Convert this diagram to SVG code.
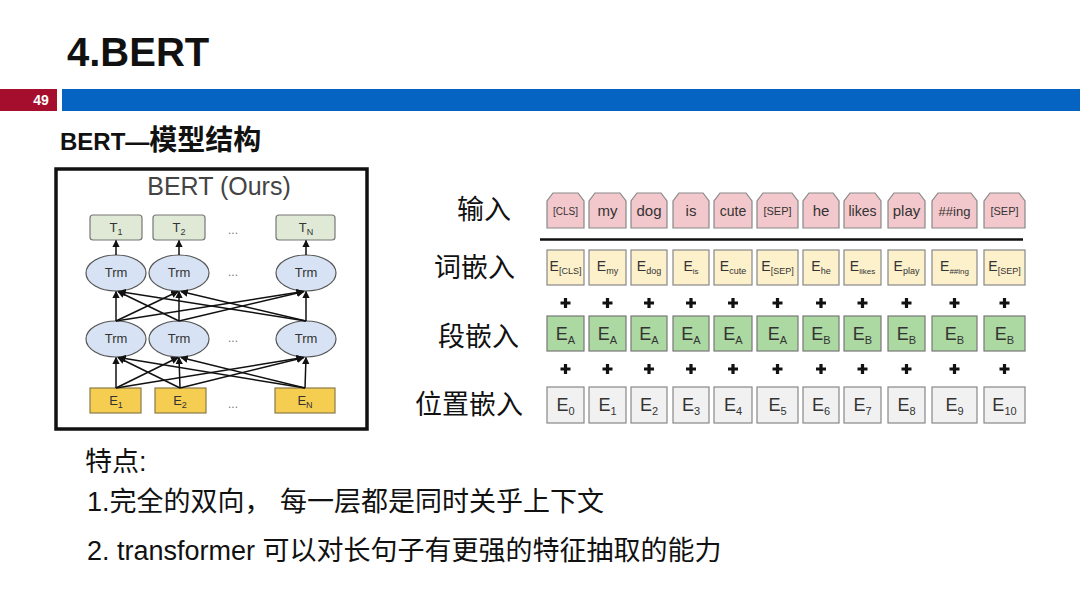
<svg xmlns="http://www.w3.org/2000/svg" width="1080" height="608" viewBox="0 0 1080 608">
<style>
text{font-family:"Liberation Sans","Noto Sans CJK SC",sans-serif}
.cjk{font-family:"Liberation Sans","Noto Sans CJK SC",sans-serif;fill:#111}
.trm{fill:#d7e3f4;stroke:#555;stroke-width:1.2}
.tbox{fill:#dfe9d6;stroke:#777;stroke-width:1.2}
.ebox{fill:#f5cd50;stroke:#8a7a4a;stroke-width:1.2}
.lbl{font-size:13px;fill:#333;text-anchor:middle}
.dots{font-size:12px;fill:#777;text-anchor:middle}
.tab{fill:#f3c8cc;stroke:#888;stroke-width:1.2}
.tok{fill:#fdf1cc;stroke:#888;stroke-width:1.2}
.seg{fill:#acd8a2;stroke:#777;stroke-width:1.2}
.pos{fill:#f1f1f1;stroke:#888;stroke-width:1.2}
.t{fill:#333;text-anchor:middle}
.conn line{stroke:#111;stroke-width:1.5;marker-end:url(#ah)}
</style>
<defs>
<marker id="ah" viewBox="0 0 10 10" refX="9" refY="5" markerWidth="5" markerHeight="5" orient="auto"><path d="M0,0 L10,5 L0,10 Z" fill="#111"/></marker>
<path id="plus" d="M-5,0 H5 M0,-5 V5" stroke="#111" stroke-width="3.2"/>
</defs>
<rect width="1080" height="608" fill="#fff"/>
<!-- header -->
<g id="header">
<text x="67" y="66" font-size="40" font-weight="bold" fill="#111">4.BERT</text>
<rect x="0" y="89" width="57" height="22" fill="#a50f2d"/>
<rect x="62" y="89" width="1018" height="22" fill="#0563c1"/>
<text x="41" y="105" font-size="14" font-weight="bold" fill="#fff" text-anchor="middle">49</text>
<text x="60" y="150" font-size="24" font-weight="bold" fill="#111">BERT—<tspan font-size="28">模型结构</tspan></text>
</g>
<!-- left panel -->
<g id="bert-panel">
<rect x="56" y="169" width="311" height="260" fill="#fff" stroke="#111" stroke-width="3.5"/>
<text x="219" y="195" font-size="25" fill="#444" text-anchor="middle">BERT (Ours)</text>
</g>
<g id="t1"><rect class="tbox" x="90" y="215" width="52" height="25" rx="3"/><text class="lbl" x="116" y="232">T<tspan font-size="9" dy="3">1</tspan></text></g>
<g id="t2"><rect class="tbox" x="153" y="215" width="52" height="25" rx="3"/><text class="lbl" x="179" y="232">T<tspan font-size="9" dy="3">2</tspan></text></g>
<g id="tn"><rect class="tbox" x="276" y="215" width="59" height="25" rx="3"/><text class="lbl" x="306" y="232">T<tspan font-size="9" dy="3">N</tspan></text></g>
<g id="trm-u1"><ellipse class="trm" cx="116" cy="273" rx="30" ry="18"/><text class="lbl" x="116" y="277">Trm</text></g>
<g id="trm-u2"><ellipse class="trm" cx="179" cy="273" rx="30" ry="18"/><text class="lbl" x="179" y="277">Trm</text></g>
<g id="trm-un"><ellipse class="trm" cx="306" cy="273" rx="30" ry="18"/><text class="lbl" x="306" y="277">Trm</text></g>
<g id="trm-l1"><ellipse class="trm" cx="116" cy="339" rx="30" ry="18"/><text class="lbl" x="116" y="343">Trm</text></g>
<g id="trm-l2"><ellipse class="trm" cx="179" cy="339" rx="30" ry="18"/><text class="lbl" x="179" y="343">Trm</text></g>
<g id="trm-ln"><ellipse class="trm" cx="306" cy="339" rx="30" ry="18"/><text class="lbl" x="306" y="343">Trm</text></g>
<g id="e1"><rect class="ebox" x="90" y="388" width="51" height="25"/><text class="lbl" x="116" y="405">E<tspan font-size="9" dy="3">1</tspan></text></g>
<g id="e2"><rect class="ebox" x="155" y="388" width="51" height="25"/><text class="lbl" x="180" y="405">E<tspan font-size="9" dy="3">2</tspan></text></g>
<g id="en"><rect class="ebox" x="275" y="388" width="60" height="25"/><text class="lbl" x="305" y="405">E<tspan font-size="9" dy="3">N</tspan></text></g>
<g id="dots">
<text class="dots" x="233" y="234">...</text>
<text class="dots" x="233" y="276">...</text>
<text class="dots" x="233" y="342">...</text>
<text class="dots" x="233" y="408">...</text>
</g>
<g class="conn" id="connectors">
<line x1="116" y1="255" x2="116" y2="240.5"/>
<line x1="179" y1="255" x2="179" y2="240.5"/>
<line x1="306" y1="255" x2="306" y2="240.5"/>
<!-- middle layer -->
<line x1="116" y1="321" x2="116" y2="291.5"/>
<line x1="116" y1="321" x2="178" y2="291.5"/>
<line x1="116" y1="321" x2="303" y2="291.5"/>
<line x1="179" y1="321" x2="118" y2="291.5"/>
<line x1="179" y1="321" x2="179" y2="291.5"/>
<line x1="179" y1="321" x2="304" y2="291.5"/>
<line x1="306" y1="321" x2="119" y2="291.5"/>
<line x1="306" y1="321" x2="181" y2="291.5"/>
<line x1="306" y1="321" x2="306" y2="291.5"/>
<!-- bottom layer -->
<line x1="116" y1="388" x2="116" y2="357.5"/>
<line x1="116" y1="388" x2="178" y2="357.5"/>
<line x1="116" y1="388" x2="303" y2="357.5"/>
<line x1="180" y1="388" x2="118" y2="357.5"/>
<line x1="180" y1="388" x2="179" y2="357.5"/>
<line x1="180" y1="388" x2="304" y2="357.5"/>
<line x1="305" y1="388" x2="119" y2="357.5"/>
<line x1="305" y1="388" x2="181" y2="357.5"/>
<line x1="305" y1="388" x2="306" y2="357.5"/>
</g>
<!-- right panel labels -->
<g id="row-labels" font-size="27">
<text class="cjk" x="511" y="219" text-anchor="end">输入</text>
<text class="cjk" x="515" y="277" text-anchor="end">词嵌入</text>
<text class="cjk" x="519" y="346" text-anchor="end">段嵌入</text>
<text class="cjk" x="523" y="414" text-anchor="end">位置嵌入</text>
</g>
<line x1="540" y1="239.5" x2="1023" y2="239.5" stroke="#111" stroke-width="2.5"/>
<!-- input tabs -->
<g id="input-row">
<g id="in0"><path class="tab" d="M547,228 V201 L553,193 H578 L584,201 V228 Z"/><text class="t" x="565.5" y="215" font-size="10">[CLS]</text></g>
<g id="in1"><path class="tab" d="M589,228 V201 L595,193 H620 L626,201 V228 Z"/><text class="t" x="607.5" y="216" font-size="15">my</text></g>
<g id="in2"><path class="tab" d="M631,228 V201 L637,193 H661 L667,201 V228 Z"/><text class="t" x="649" y="216" font-size="15">dog</text></g>
<g id="in3"><path class="tab" d="M673,228 V201 L679,193 H703 L709,201 V228 Z"/><text class="t" x="691" y="216" font-size="15">is</text></g>
<g id="in4"><path class="tab" d="M714,228 V201 L720,193 H746 L752,201 V228 Z"/><text class="t" x="733" y="216" font-size="14">cute</text></g>
<g id="in5"><path class="tab" d="M757,228 V201 L763,193 H792 L798,201 V228 Z"/><text class="t" x="777.5" y="215" font-size="11">[SEP]</text></g>
<g id="in6"><path class="tab" d="M803,228 V201 L809,193 H833 L839,201 V228 Z"/><text class="t" x="821" y="216" font-size="15">he</text></g>
<g id="in7"><path class="tab" d="M844,228 V201 L850,193 H875 L881,201 V228 Z"/><text class="t" x="862.5" y="216" font-size="14">likes</text></g>
<g id="in8"><path class="tab" d="M888,228 V201 L894,193 H919 L925,201 V228 Z"/><text class="t" x="906.5" y="216" font-size="15">play</text></g>
<g id="in9"><path class="tab" d="M932,228 V201 L938,193 H971 L977,201 V228 Z"/><text class="t" x="954.5" y="216" font-size="13">##ing</text></g>
<g id="in10"><path class="tab" d="M984,228 V201 L990,193 H1019 L1025,201 V228 Z"/><text class="t" x="1004.5" y="215" font-size="11">[SEP]</text></g>
</g>
<!-- token embeddings -->
<g id="token-row">
<g id="tk0"><rect class="tok" x="547" y="250" width="37" height="35"/><text class="t" x="565.5" y="271" font-size="14">E<tspan font-size="9" dy="3">[CLS]</tspan></text></g>
<g id="tk1"><rect class="tok" x="589" y="250" width="37" height="35"/><text class="t" x="607.5" y="271" font-size="14">E<tspan font-size="9" dy="3">my</tspan></text></g>
<g id="tk2"><rect class="tok" x="631" y="250" width="36" height="35"/><text class="t" x="649" y="271" font-size="14">E<tspan font-size="9" dy="3">dog</tspan></text></g>
<g id="tk3"><rect class="tok" x="673" y="250" width="36" height="35"/><text class="t" x="691" y="271" font-size="14">E<tspan font-size="8" dy="3">is</tspan></text></g>
<g id="tk4"><rect class="tok" x="714" y="250" width="38" height="35"/><text class="t" x="733" y="271" font-size="14">E<tspan font-size="9" dy="3">cute</tspan></text></g>
<g id="tk5"><rect class="tok" x="757" y="250" width="41" height="35"/><text class="t" x="777.5" y="271" font-size="14">E<tspan font-size="9" dy="3">[SEP]</tspan></text></g>
<g id="tk6"><rect class="tok" x="803" y="250" width="36" height="35"/><text class="t" x="821" y="271" font-size="14">E<tspan font-size="9" dy="3">he</tspan></text></g>
<g id="tk7"><rect class="tok" x="844" y="250" width="37" height="35"/><text class="t" x="862.5" y="271" font-size="14">E<tspan font-size="8" dy="3">likes</tspan></text></g>
<g id="tk8"><rect class="tok" x="888" y="250" width="37" height="35"/><text class="t" x="906.5" y="271" font-size="14">E<tspan font-size="9" dy="3">play</tspan></text></g>
<g id="tk9"><rect class="tok" x="932" y="250" width="45" height="35"/><text class="t" x="954.5" y="271" font-size="14">E<tspan font-size="8" dy="3">##ing</tspan></text></g>
<g id="tk10"><rect class="tok" x="984" y="250" width="41" height="35"/><text class="t" x="1004.5" y="271" font-size="14">E<tspan font-size="9" dy="3">[SEP]</tspan></text></g>
</g>
<!-- plus signs -->
<g id="plus-rows">
<use href="#plus" x="565.5" y="303"/><use href="#plus" x="607.5" y="303"/><use href="#plus" x="649" y="303"/><use href="#plus" x="691" y="303"/><use href="#plus" x="733" y="303"/><use href="#plus" x="777.5" y="303"/><use href="#plus" x="821" y="303"/><use href="#plus" x="862.5" y="303"/><use href="#plus" x="906.5" y="303"/><use href="#plus" x="954.5" y="303"/><use href="#plus" x="1004.5" y="303"/>
<use href="#plus" x="565.5" y="369"/><use href="#plus" x="607.5" y="369"/><use href="#plus" x="649" y="369"/><use href="#plus" x="691" y="369"/><use href="#plus" x="733" y="369"/><use href="#plus" x="777.5" y="369"/><use href="#plus" x="821" y="369"/><use href="#plus" x="862.5" y="369"/><use href="#plus" x="906.5" y="369"/><use href="#plus" x="954.5" y="369"/><use href="#plus" x="1004.5" y="369"/>
</g>
<!-- segment embeddings -->
<g id="segment-row">
<g id="sg0"><rect class="seg" x="547" y="316" width="37" height="35"/><text class="t" x="565.5" y="340" font-size="18">E<tspan font-size="11" dy="4">A</tspan></text></g>
<g id="sg1"><rect class="seg" x="589" y="316" width="37" height="35"/><text class="t" x="607.5" y="340" font-size="18">E<tspan font-size="11" dy="4">A</tspan></text></g>
<g id="sg2"><rect class="seg" x="631" y="316" width="36" height="35"/><text class="t" x="649" y="340" font-size="18">E<tspan font-size="11" dy="4">A</tspan></text></g>
<g id="sg3"><rect class="seg" x="673" y="316" width="36" height="35"/><text class="t" x="691" y="340" font-size="18">E<tspan font-size="11" dy="4">A</tspan></text></g>
<g id="sg4"><rect class="seg" x="714" y="316" width="38" height="35"/><text class="t" x="733" y="340" font-size="18">E<tspan font-size="11" dy="4">A</tspan></text></g>
<g id="sg5"><rect class="seg" x="757" y="316" width="41" height="35"/><text class="t" x="777.5" y="340" font-size="18">E<tspan font-size="11" dy="4">A</tspan></text></g>
<g id="sg6"><rect class="seg" x="803" y="316" width="36" height="35"/><text class="t" x="821" y="340" font-size="18">E<tspan font-size="11" dy="4">B</tspan></text></g>
<g id="sg7"><rect class="seg" x="844" y="316" width="37" height="35"/><text class="t" x="862.5" y="340" font-size="18">E<tspan font-size="11" dy="4">B</tspan></text></g>
<g id="sg8"><rect class="seg" x="888" y="316" width="37" height="35"/><text class="t" x="906.5" y="340" font-size="18">E<tspan font-size="11" dy="4">B</tspan></text></g>
<g id="sg9"><rect class="seg" x="932" y="316" width="45" height="35"/><text class="t" x="954.5" y="340" font-size="18">E<tspan font-size="11" dy="4">B</tspan></text></g>
<g id="sg10"><rect class="seg" x="984" y="316" width="41" height="35"/><text class="t" x="1004.5" y="340" font-size="18">E<tspan font-size="11" dy="4">B</tspan></text></g>
</g>
<!-- position embeddings -->
<g id="position-row">
<g id="ps0"><rect class="pos" x="547" y="387" width="37" height="36"/><text class="t" x="565.5" y="411" font-size="18">E<tspan font-size="11" dy="4">0</tspan></text></g>
<g id="ps1"><rect class="pos" x="589" y="387" width="37" height="36"/><text class="t" x="607.5" y="411" font-size="18">E<tspan font-size="11" dy="4">1</tspan></text></g>
<g id="ps2"><rect class="pos" x="631" y="387" width="36" height="36"/><text class="t" x="649" y="411" font-size="18">E<tspan font-size="11" dy="4">2</tspan></text></g>
<g id="ps3"><rect class="pos" x="673" y="387" width="36" height="36"/><text class="t" x="691" y="411" font-size="18">E<tspan font-size="11" dy="4">3</tspan></text></g>
<g id="ps4"><rect class="pos" x="714" y="387" width="38" height="36"/><text class="t" x="733" y="411" font-size="18">E<tspan font-size="11" dy="4">4</tspan></text></g>
<g id="ps5"><rect class="pos" x="757" y="387" width="41" height="36"/><text class="t" x="777.5" y="411" font-size="18">E<tspan font-size="11" dy="4">5</tspan></text></g>
<g id="ps6"><rect class="pos" x="803" y="387" width="36" height="36"/><text class="t" x="821" y="411" font-size="18">E<tspan font-size="11" dy="4">6</tspan></text></g>
<g id="ps7"><rect class="pos" x="844" y="387" width="37" height="36"/><text class="t" x="862.5" y="411" font-size="18">E<tspan font-size="11" dy="4">7</tspan></text></g>
<g id="ps8"><rect class="pos" x="888" y="387" width="37" height="36"/><text class="t" x="906.5" y="411" font-size="18">E<tspan font-size="11" dy="4">8</tspan></text></g>
<g id="ps9"><rect class="pos" x="932" y="387" width="45" height="36"/><text class="t" x="954.5" y="411" font-size="18">E<tspan font-size="11" dy="4">9</tspan></text></g>
<g id="ps10"><rect class="pos" x="984" y="387" width="41" height="36"/><text class="t" x="1004.5" y="411" font-size="18">E<tspan font-size="11" dy="4">10</tspan></text></g>
</g>
<!-- notes -->
<g id="notes" font-size="27" fill="#111">
<text class="cjk" x="85" y="471">特点:</text>
<text class="cjk" x="87" y="511">1.完全的双向，<tspan x="280">每一层都是同时关乎上下文</tspan></text>
<text class="cjk" x="87" y="560">2. transformer 可以对长句子有更强的特征抽取的能力</text>
</g>
</svg>
